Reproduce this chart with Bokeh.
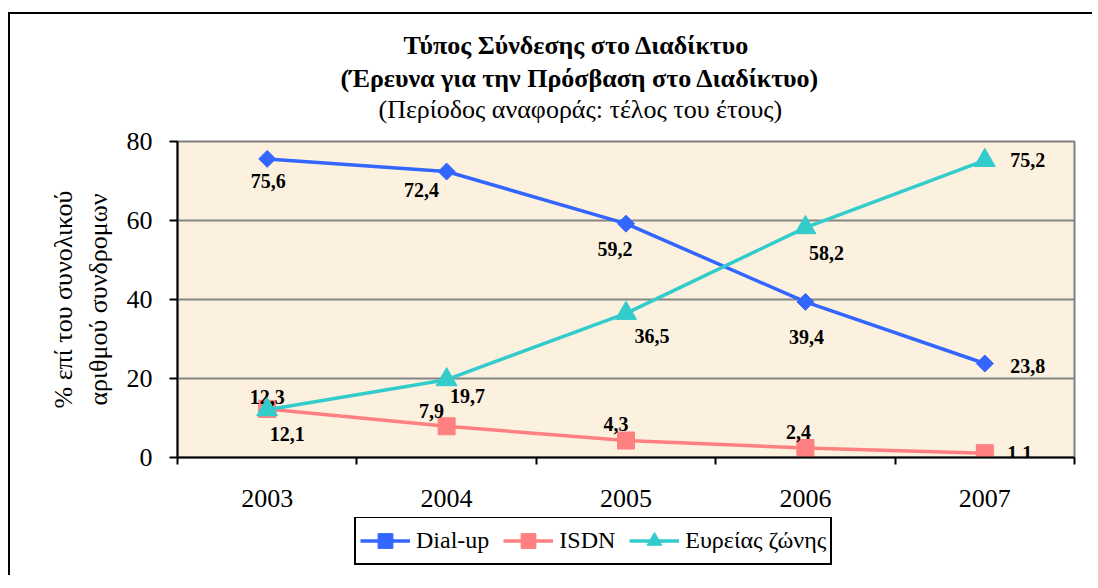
from bokeh.plotting import figure
from bokeh.layouts import column
from bokeh.models import Range1d, FixedTicker, Title, Legend, LegendItem, ColumnDataSource
from bokeh.core.properties import value
from bokeh.embed import file_html
from bokeh.resources import INLINE
import math

# ---- data ----
years = ["2003", "2004", "2005", "2006", "2007"]
dialup = [75.6, 72.4, 59.2, 39.4, 23.8]
isdn = [12.3, 7.9, 4.3, 2.4, 1.1]
broadband = [12.1, 19.7, 36.5, 58.2, 75.2]
series_names = ["Dial-up", "ISDN", "Ευρείας ζώνης"]
y_ticks = [0, 20, 40, 60, 80]

# ---- label placement (pixels, styling only) ----
dialup_dx = [1, -25, -11, 1, 43]
dialup_dy = [22, 18, 25, 35, 3]
isdn_dx = [0, -15, -10, -7, 35]
isdn_dy = [-12, -15, -17, -16, 0]
bb_dx = [20, 21, 26, 21, 43]
bb_dy = [24, 16, 23, 25, 0]

FONT = "Liberation Serif"
xs = list(range(len(years)))
CANVAS_W = 167 + 895 + 20

p = figure(frame_width=895, frame_height=314,
           x_range=Range1d(-0.5, len(years) - 0.5), y_range=Range1d(0, 80),
           output_backend="svg", toolbar_location=None,
           min_border_left=167, min_border_right=20,
           min_border_top=127, min_border_bottom=62)
p.styles = {"margin-left": "8px", "margin-top": "12px",
            "border-left": "2px solid black", "border-top": "2px solid black"}
p.background_fill_color = "#FBF1DE"
p.border_fill_color = "white"
p.outline_line_color = "#808080"
p.outline_line_width = 2

# titles (added bottom-up; first one is a spacer next to the frame)
spacer = Title(text=" ", text_font=FONT, text_font_size="15px", standoff=0)
t3 = Title(text="(Περίοδος αναφοράς: τέλος του έτους)", align="left", offset=201,
           text_font=FONT, text_font_size="26px", text_font_style="normal",
           text_color="black", standoff=0)
t2 = Title(text="(Έρευνα για την Πρόσβαση στο Διαδίκτυο)", align="left", offset=163,
           text_font=FONT, text_font_size="26px", text_font_style="bold",
           text_color="black", standoff=0)
t1 = Title(text="Τύπος Σύνδεσης στο Διαδίκτυο", align="left", offset=226,
           text_font=FONT, text_font_size="26px", text_font_style="bold",
           text_color="black", standoff=4)
p.add_layout(spacer, "above")
p.add_layout(t3, "above")
p.add_layout(t2, "above")
p.add_layout(t1, "above")

# grid
p.xgrid.grid_line_color = None
p.ygrid.grid_line_color = "#858585"
p.ygrid.grid_line_width = 2

# y axis
p.yaxis.ticker = FixedTicker(ticks=y_ticks)
p.yaxis.axis_line_width = 2
p.yaxis.axis_line_color = "black"
p.yaxis.major_tick_out = 8
p.yaxis.major_tick_in = 0
p.yaxis.major_tick_line_width = 2
p.yaxis.minor_tick_line_color = None
p.yaxis.major_label_text_font = FONT
p.yaxis.major_label_text_font_size = "26px"
p.yaxis.major_label_text_color = "black"
p.yaxis.major_label_standoff = 17
p.yaxis.axis_label = "% επί του συνολικού\nαριθμού συνδρομων"
p.yaxis.axis_label_text_font = FONT
p.yaxis.axis_label_text_font_size = "26px"
p.yaxis.axis_label_text_font_style = "normal"
p.yaxis.axis_label_text_color = "black"
p.yaxis.axis_label_standoff = 11

# x axis: labels at category centres, ticks between categories
p.xaxis.ticker = FixedTicker(ticks=xs, minor_ticks=[i - 0.5 for i in range(len(years) + 1)])
p.xaxis.major_label_overrides = {i: y for i, y in zip(xs, years)}
p.xaxis.axis_line_width = 2
p.xaxis.axis_line_color = "black"
p.xaxis.major_tick_out = 0
p.xaxis.major_tick_in = 0
p.xaxis.minor_tick_out = 7
p.xaxis.minor_tick_in = 0
p.xaxis.minor_tick_line_color = "black"
p.xaxis.minor_tick_line_width = 2
p.xaxis.major_label_text_font = FONT
p.xaxis.major_label_text_font_size = "26px"
p.xaxis.major_label_text_color = "black"
p.xaxis.major_label_standoff = 25

colors = ["#3366FF", "#FF8080", "#33CCCC"]
series = [dialup, isdn, broadband]
markers = [("square", 12, math.pi / 4), ("square", 17, 0), ("triangle", 21, 0)]
dxs = [dialup_dx, isdn_dx, bb_dx]
dys = [dialup_dy, isdn_dy, bb_dy]

# legend lives in its own strip below the chart; its swatch renderers reuse the
# series data but the strip's ranges keep them out of view
lf = figure(width=CANVAS_W, height=58, x_range=Range1d(-0.5, len(years) - 0.5),
            y_range=Range1d(1000, 1001),
            x_axis_type=None, y_axis_type=None, output_backend="svg",
            toolbar_location=None, min_border=0)
lf.styles = {"margin-left": "8px", "border-left": "2px solid black"}
lf.outline_line_color = None
lf.background_fill_color = "white"
lf.border_fill_color = "white"

items = []
for name, vals, col, (mk, sz, ang), dx, dy in zip(series_names, series, colors, markers, dxs, dys):
    src = ColumnDataSource(dict(x=xs, y=vals,
                                lab=[f"{v:.1f}".replace(".", ",") for v in vals],
                                dx=dx, dy=dy))
    p.line("x", "y", source=src, line_color=col, line_width=3.5)
    p.scatter("x", "y", source=src, marker=mk, size=sz, angle=ang,
              fill_color=col, line_color=col)
    p.text("x", "y", text="lab", source=src, x_offset="dx", y_offset="dy",
           text_font=value(FONT), text_font_size="20px", text_font_style="bold",
           text_color="black", text_align="center", text_baseline="middle")
    ll = lf.line("x", "y", source=src, line_color=col, line_width=3.5)
    ls = lf.scatter("x", "y", source=src, marker=mk, size=sz, angle=ang,
                    fill_color=col, line_color=col)
    items.append(LegendItem(label=name, renderers=[ll, ls]))

legend = Legend(items=items, orientation="horizontal", location=(177, 10),
                border_line_color="black", border_line_width=2, border_line_alpha=1.0,
                background_fill_color="white", background_fill_alpha=1.0,
                label_text_font=FONT, label_text_font_size="24px",
                label_text_color="black",
                glyph_width=50, glyph_height=37, label_standoff=6,
                spacing=14, padding=4, margin=0)
lf.add_layout(legend, "center")

layout = column(p, lf)
open("out.html", "w").write(file_html(layout, INLINE))
